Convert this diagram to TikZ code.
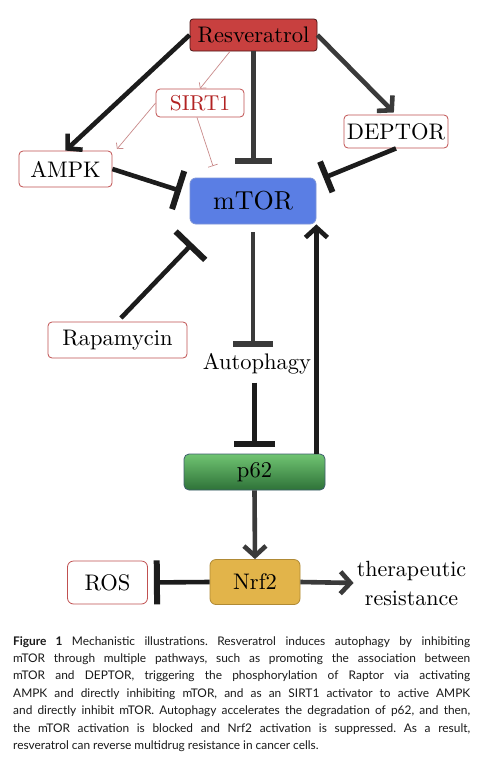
\documentclass[tikz,border=0pt]{standalone}
\usepackage{fontspec}
\setmainfont{lmroman10-regular.otf}[BoldFont=lmroman10-bold.otf]
\newfontfamily\capfont{Lato}
\usetikzlibrary{arrows.meta,calc}
\definecolor{resred}{HTML}{C8403F}
\definecolor{resborder}{HTML}{4A1515}
\definecolor{boxred}{HTML}{C05050}
\definecolor{sirtred}{HTML}{B22222}
\definecolor{thinred}{HTML}{C98A8A}
\definecolor{mtorblue}{HTML}{5A7EE4}
\definecolor{mtorborder}{HTML}{7C94D8}
\definecolor{pgtop}{HTML}{70C472}
\definecolor{pgbot}{HTML}{2E7238}
\definecolor{pgborder}{HTML}{3E5E6E}
\definecolor{nrfgold}{HTML}{E2B44A}
\definecolor{nrfborder}{HTML}{B08A35}
\definecolor{lineblk}{HTML}{1C1C1C}
\definecolor{linegray}{HTML}{3A3A3A}
\definecolor{captext}{HTML}{1A1A1A}
\frenchspacing
\begin{document}
\begin{tikzpicture}[x=1pt,y=-1pt,
  lbl/.style={font=\fontsize{22.5}{26}\selectfont, inner sep=0pt},
  wbox/.style={lbl, draw=boxred, line width=0.8pt, fill=white, rounded corners=4pt},
  heavy/.style={line width=4.6pt, draw=lineblk},
  arr/.style={-{Straight Barb[length=10pt,width=22pt]}},
  inh/.style={-{Bar[width=#1,line width=6pt]}},
  thinln/.style={draw=thinred, line width=0.7pt},
  thinarr/.style={-{Straight Barb[length=4pt,width=9pt]}},
  capline/.style={anchor=base west, inner sep=0pt, text=captext, font=\capfont\fontsize{11.9}{17}\selectfont}
]
\useasboundingbox[fill=white] (0,0) rectangle (501,766);

% nodes
\node[lbl, draw=resborder, line width=0.8pt, fill=resred, rounded corners=3pt,
      minimum width=127pt, minimum height=32pt] (res) at (253.5,35) {Resveratrol};
\node[wbox, text=sirtred, font=\fontsize{21.5}{24}\selectfont,
      minimum width=88pt, minimum height=28pt] (sirt) at (200,103) {SIRT1};
\node[wbox, minimum width=104pt, minimum height=33pt] (dep) at (396,131.5) {DEPTOR};
\node[wbox, minimum width=93pt, minimum height=36pt] (ampk) at (65.5,169) {AMPK};
\node[lbl, font=\fontsize{26}{30}\selectfont, draw=mtorborder, line width=0.8pt,
      fill=mtorblue, rounded corners=6pt,
      minimum width=126pt, minimum height=46pt] (mtor) at (253,201) {mTOR};
\node[wbox, minimum width=139pt, minimum height=36pt] (rapa) at (117.5,340) {Rapamycin};
\node[lbl] (auto) at (257,364) {Autophagy};
\node[lbl, draw=pgborder, line width=0.8pt, top color=pgtop, bottom color=pgbot,
      rounded corners=5pt, minimum width=141pt, minimum height=36pt] (p62) at (254.5,472) {p62};
\node[lbl, draw=nrfborder, line width=0.8pt, fill=nrfgold, rounded corners=6pt,
      minimum width=90pt, minimum height=45pt] (nrf2) at (255,582) {Nrf2};
\node[wbox, rounded corners=6pt, minimum width=80pt, minimum height=43pt] (ros) at (107.5,582.5) {ROS};
\node[lbl, font=\fontsize{22}{29}\selectfont, align=center] (ther) at (411.5,583) {therapeutic\\resistance};

% free ends
\coordinate (ampkTR) at (117,149);
\coordinate (sbar) at (213,166);
\coordinate (am) at (181,191);
\coordinate (dm) at (323.5,178);
\coordinate (rm) at (192.5,243.5);

% thin SIRT1 connectors
\draw[thinln, thinarr] ($(res.south)+(-23.5,0)$) -- (sirt.north);
\draw[thinln, thinarr] (sirt.west) -- (ampkTR);
\draw[thinln, -{Bar[width=10pt]}] ($(sirt.south)+(-3,0)$) -- (sbar);

% heavy connectors
\draw[heavy, arr] (res.west) -- (ampk.north);
\draw[heavy, arr, draw=linegray, shorten >=3pt] (res.east) -- (dep.north);
\draw[heavy, draw=linegray, inh=37pt, shorten >=14pt] (res.south) -- (res.south |- mtor.north);
\draw[heavy, inh=40pt] (ampk.east) -- (am);
\draw[heavy, inh=33pt] (dep.south) -- (dm);
\draw[heavy, inh=41pt, shorten <=5pt] (rapa.north) -- (rm);
\draw[heavy, draw=linegray, inh=40pt, shorten <=8pt, shorten >=6pt] (mtor.south) -- (mtor.south |- auto.north);
\draw[heavy, inh=41pt, shorten <=8pt, shorten >=7pt] (p62.north |- auto.south) -- (p62.north);
\draw[heavy, arr] (p62.north -| mtor.south east) -- (mtor.south east);
\draw[heavy, draw=linegray, arr] (p62.south) -- (nrf2.north);
\draw[heavy, inh=44pt, shorten >=6pt] (nrf2.west) -- (ros.east);
\draw[heavy, draw=linegray, arr, shorten >=3pt] (nrf2.east) -- (ther.west);

% caption
\node[capline] (c1) at (13,645) {\makebox[457pt][s]{\textbf{Figure 1} Mechanistic illustrations. Resveratrol induces autophagy by inhibiting}};
\node[capline] (c2) at (13,662.4) {\makebox[457pt][s]{mTOR through multiple pathways, such as promoting the association between}};
\node[capline] (c3) at (13,679.8) {\makebox[457pt][s]{mTOR and DEPTOR, triggering the phosphorylation of Raptor via activating}};
\node[capline] (c4) at (13,697.2) {\makebox[457pt][s]{AMPK and directly inhibiting mTOR, and as an SIRT1 activator to active AMPK}};
\node[capline] (c5) at (13,714.6) {\makebox[457pt][s]{and directly inhibit mTOR. Autophagy accelerates the degradation of p62, and then,}};
\node[capline] (c6) at (13,732) {\makebox[457pt][s]{the mTOR activation is blocked and Nrf2 activation is suppressed. As a result,}};
\node[capline] (c7) at (13,749.4) {resveratrol can reverse multidrug resistance in cancer cells.};
\end{tikzpicture}
\end{document}
